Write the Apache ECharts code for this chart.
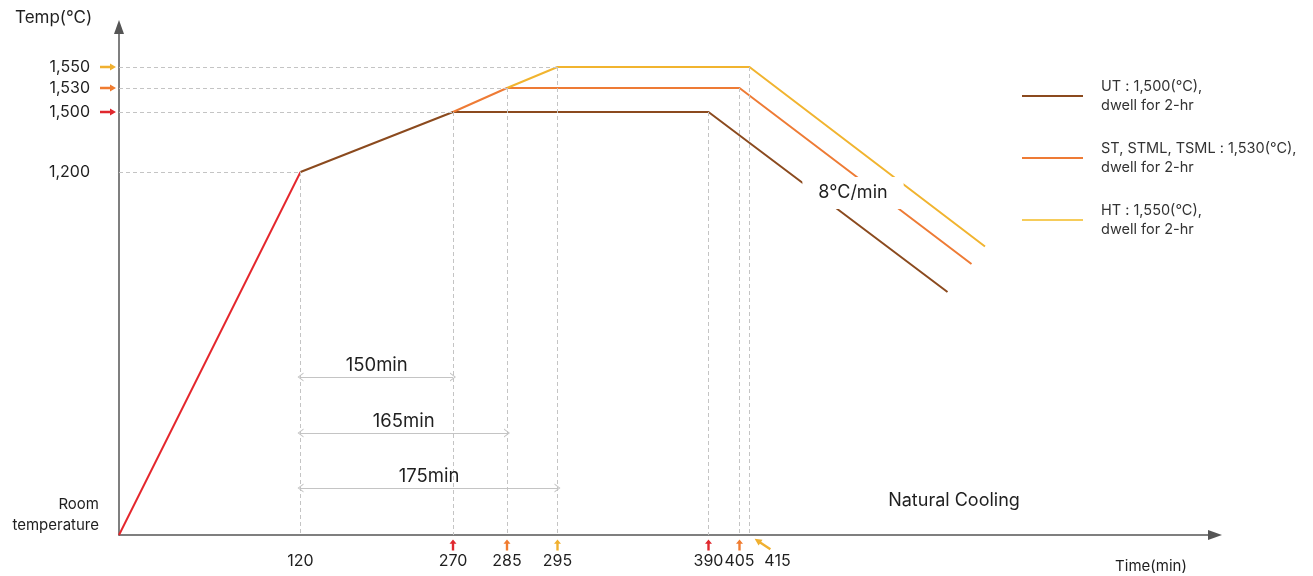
<!DOCTYPE html>
<html>
<head>
<meta charset="utf-8">
<script src="https://cdn.jsdelivr.net/npm/echarts@6/dist/echarts.min.js"></script>
<style>
html,body{margin:0;padding:0;background:#fff;}
#chart{width:1313px;height:576px;}
</style>
</head>
<body>
<div id="chart"></div>
<script>
// heat treatment profile (schematic: axes are not to scale)
var timeTicks = [0, 120, 270, 285, 295, 390, 405, 415];		// min
var timeAxisPos = [0, 181.5, 334, 388, 438.5, 589.5, 620.5, 630.5];	// place on the drawn axis
var tempTicks = ['room', 1200, 1500, 1530, 1550];		// °C
var tempAxisPos = [0, 363, 423, 447, 468];

var heatRamp = [[0, 'room'], [120, 1200]];
var utProfile = [[120, 1200], [270, 1500], [390, 1500]];
var stProfile = [[270, 1500], [285, 1530], [405, 1530]];
var htProfile = [[285, 1530], [295, 1550], [415, 1550]];
// where each 8°C/min cooling line stops (drawn position)
var coolEnds = [[828.5, 243], [852.5, 271], [866, 288.5]];

var seriesNames = ['UT : 1,500(°C),\ndwell for 2-hr', 'ST, STML, TSML : 1,530(°C),\ndwell for 2-hr', 'HT : 1,550(°C),\ndwell for 2-hr'];
var seriesColors = ['#8b4a1e', '#ee7b35', '#f1b42f'];
var levelColors = { 1500: '#e0282e', 1530: '#f07c30', 1550: '#f0b030' };

var holdStarts = [[120, 1200], [270, 1500], [285, 1530], [295, 1550]];
var holdEnds = [[390, 1500], [405, 1530], [415, 1550]];
var spanRows = [158, 102, 47];		// rows of the duration arrows
var spanEnds = [270, 285, 295];

var fontName = 'Inter';
var textColor = '#1f1f1f';

function xOf(t) { return timeAxisPos[timeTicks.indexOf(t)]; }
function yOf(T) { return tempAxisPos[tempTicks.indexOf(T)]; }
function toXY(list) { return list.map(function (p) { return [xOf(p[0]), yOf(p[1])]; }); }
function nearest(arr, v) {
	var best = 0;
	for (var i = 0; i < arr.length; i++) {
		if (Math.abs(arr[i] - v) < Math.abs(arr[best] - v)) best = i;
	}
	return best;
}

var profiles = [utProfile, stProfile, htProfile];
var lineSeries = profiles.map(function (p, i) {
	var pts = toXY(p);
	pts.push(coolEnds[i]);
	return {
		name: seriesNames[i],
		type: 'line',
		data: pts,
		symbol: 'none',
		z: 3,
		lineStyle: { color: seriesColors[i], width: 2 },
		itemStyle: { color: seriesColors[i] }
	};
});

// dashed guides
var guides = [];
holdStarts.forEach(function (p) {
	var x = xOf(p[0]), y = yOf(p[1]);
	guides.push([{ coord: [0, y] }, { coord: [x, y] }]);
	guides.push([{ coord: [x, y] }, { coord: [x, 0] }]);
});
holdEnds.forEach(function (p) {
	var x = xOf(p[0]), y = yOf(p[1]);
	guides.push([{ coord: [x, y] }, { coord: [x, 0] }]);
});

// duration arrows
var spans = spanEnds.map(function (t, i) {
	return [{ coord: [xOf(120), spanRows[i]], label: { formatter: (t - 120) + 'min' } }, { coord: [xOf(t), spanRows[i]] }];
});

var upArrow = 'path://M5,0 L10,6 L6.7,6 L6.7,16 L3.3,16 L3.3,6 L0,6 Z';
var rightArrow = 'path://M0,3.3 L10,3.3 L10,0 L16,5 L10,10 L10,6.7 L0,6.7 Z';
var chevron = 'path://M0,10 L5,0 L10,10 L8.6,10 L5,2.6 L1.4,10 Z';

var bottomMarks = [[270, 1500], [285, 1530], [295, 1550], [390, 1500], [405, 1530]].map(function (p) {
	return { value: [xOf(p[0]), 0], itemStyle: { color: levelColors[p[1]] } };
});
var leftMarks = [1500, 1530, 1550].map(function (T) {
	return { value: [0, yOf(T)], itemStyle: { color: levelColors[T] } };
});

var container = echarts.init(document.getElementById('chart'));
var option = {
	animation: false,
	textStyle: { fontFamily: fontName },
	grid: { left: 119, right: 98, top: 27, bottom: 41 },
	xAxis: {
		type: 'value', min: 0, max: 1096,
		splitLine: { show: false },
		axisTick: { show: false },
		axisLine: { lineStyle: { color: '#555', width: 1.5 }, symbol: ['none', 'triangle'], symbolSize: [10, 14] },
		axisLabel: {
			customValues: timeAxisPos.slice(1),
			margin: 18,
			fontSize: 16, color: textColor, fontFamily: fontName,
			formatter: function (v) {
				var t = timeTicks[nearest(timeAxisPos, v)];
				return t === 415 ? '{s|' + t + '}' : String(t);
			},
			rich: { s: { fontSize: 16, color: textColor, fontFamily: fontName, padding: [0, 0, 0, 56] } }
		}
	},
	yAxis: {
		type: 'value', min: 0, max: 508,
		splitLine: { show: false },
		axisTick: { show: false },
		axisLine: { lineStyle: { color: '#555', width: 1.5 }, symbol: ['none', 'triangle'], symbolSize: [10, 14] },
		axisLabel: {
			customValues: tempAxisPos,
			margin: 20,
			fontSize: 16, color: textColor, fontFamily: fontName,
			formatter: function (v) {
				var T = tempTicks[nearest(tempAxisPos, v)];
				if (T === 'room') return '{r|Room}\n{r|temperature}\n{g| }';
				return '{n|' + T.toLocaleString('en-US') + '}';
			},
			rich: {
				n: { fontSize: 16, color: textColor, fontFamily: fontName, padding: [0, 9, 0, 0] },
				r: { fontSize: 15, color: textColor, fontFamily: fontName, lineHeight: 21, align: 'right' },
				g: { fontSize: 2, lineHeight: 40 }
			}
		}
	},
	legend: {
		orient: 'vertical',
		left: 1022, top: 77, padding: 0,
		icon: 'rect',
		itemWidth: 61, itemHeight: 2, itemGap: 24,
		textStyle: { fontSize: 14.5, color: '#333', fontFamily: fontName, lineHeight: 19, padding: [0, 0, 0, 13] },
		data: [
			{ name: seriesNames[0] },
			{ name: seriesNames[1] },
			{ name: seriesNames[2], itemStyle: { color: '#f6cc5a' } }
		]
	},
	graphic: [
		{ type: 'text', x: 15, y: 18, style: { text: 'Temp(°C)', font: '17px ' + fontName, fill: textColor, verticalAlign: 'middle' } },
		{ type: 'text', x: 1151, y: 566, style: { text: 'Time(min)', font: '15px ' + fontName, fill: textColor, align: 'center', verticalAlign: 'middle' } },
		{ type: 'text', x: 954, y: 501, style: { text: 'Natural Cooling', font: '18px ' + fontName, fill: textColor, align: 'center', verticalAlign: 'middle' } }
	],
	series: [
		{
			// dashed guides
			type: 'line', data: [], z: 1, silent: true,
			markLine: {
				silent: true, symbol: 'none', animation: false,
				lineStyle: { type: [4, 3], color: '#c4c4c4', width: 1 },
				label: { show: false },
				data: guides
			}
		},
		{
			// duration spans
			type: 'line', data: [], z: 1, silent: true,
			markLine: {
				silent: true, animation: false,
				symbol: [chevron, chevron], symbolSize: [9, 6],
				lineStyle: { type: 'solid', color: '#c4c4c4', width: 1 },
				label: { show: true, position: 'insideMiddleTop', distance: 2, fontSize: 18.5, color: textColor, fontFamily: fontName },
				data: spans
			}
		},
		{
			type: 'line', data: toXY(heatRamp), symbol: 'none', z: 3,
			lineStyle: { color: '#e5262c', width: 2 }
		}
	].concat(lineSeries).concat([
		{
			type: 'scatter', clip: false, z: 4, silent: true,
			symbol: upArrow, symbolSize: [7, 11], symbolOffset: [0, 10],
			itemStyle: { opacity: 1 },
			data: bottomMarks
		},
		{
			type: 'scatter', clip: false, z: 4, silent: true,
			symbol: upArrow, symbolSize: [7, 19], symbolOffset: [13, 9], symbolRotate: 56,
			itemStyle: { opacity: 1 },
			data: [{ value: [xOf(415), 0], itemStyle: { color: levelColors[1550] } }]
		},
		{
			type: 'scatter', clip: false, z: 4, silent: true,
			symbol: rightArrow, symbolSize: [16, 7], symbolOffset: [-11, 0],
			itemStyle: { opacity: 1 },
			data: leftMarks
		},
		{
			type: 'scatter', z: 10, silent: true, symbolSize: 0,
			itemStyle: { opacity: 1 },
			data: [[734, 342]],
			label: {
				show: true, position: 'inside', formatter: '8°C/min',
				fontSize: 18, color: textColor, fontFamily: fontName,
				backgroundColor: '#fff', padding: [9, 16, 5, 16]
			}
		}
	])
};
container.setOption(option, true);
</script>
</body>
</html>
